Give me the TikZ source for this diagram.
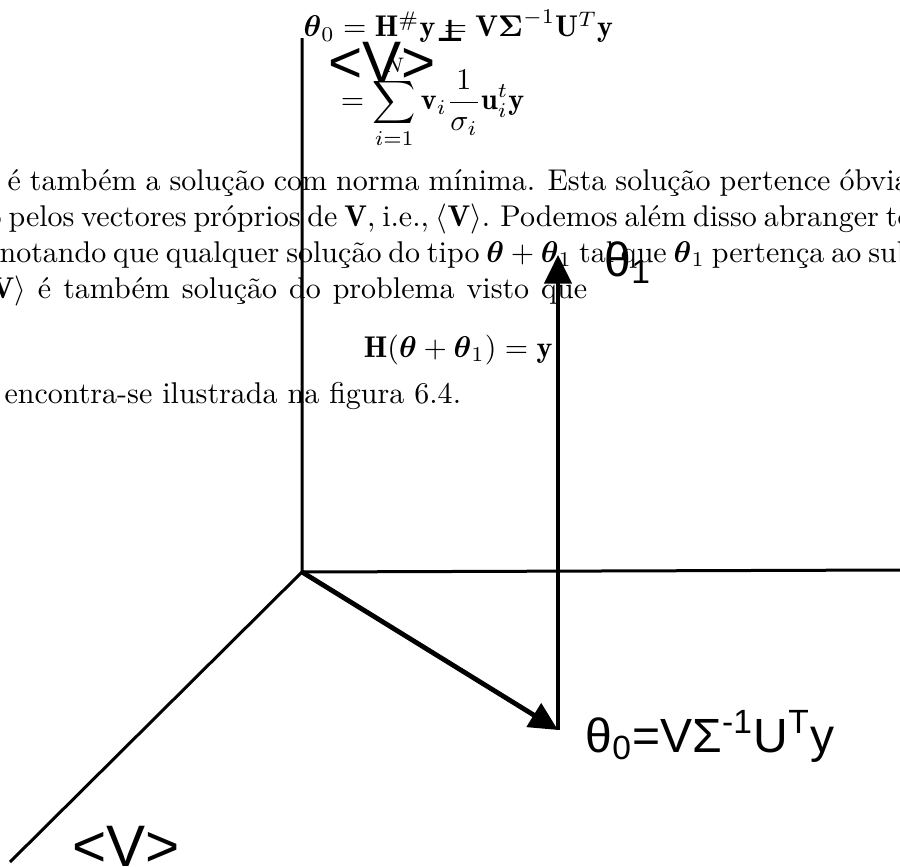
\documentclass[tikz,border=0pt]{standalone}
\usepackage{amsmath}
\usepackage{amssymb}
\usepackage{fontspec}
\newfontfamily\figfont{Liberation Sans}
\newfontfamily\symbfont{DejaVu Sans}
\usetikzlibrary{arrows.meta}

\begin{document}
\begin{tikzpicture}[>={Triangle[length=9.5pt,width=9pt]}, x=0.3333pt, y=-0.3333pt,
    txt/.style={anchor=base west, inner sep=0pt},
    lbl/.style={anchor=base west, inner sep=0pt, font=\figfont\fontsize{19.5}{22}\selectfont},
    axis/.style={line width=1pt},
    vec/.style={->, line width=1.6pt}]
    \useasboundingbox (0,0) rectangle (900,867);
    \clip (0,0) rectangle (900,867);

    % Page text
    \node[txt] (eqa) at (303,37) {$\boldsymbol{\theta}_0 = \mathbf{H}^{\#}\mathbf{y} = \mathbf{V}\boldsymbol{\Sigma}^{-1}\mathbf{U}^T\mathbf{y}$};
    \node[txt] (eqb) at (332,110) {$\displaystyle {}= \sum_{i=1}^{N}\mathbf{v}_i\frac{1}{\sigma_i}\mathbf{u}_i^t\mathbf{y}$};
    \node[txt] (line1) at (7,190) {\spaceskip=3pt\relax é também a solução com norma mínima. Esta solução pertence óbvia};
    \node[txt] (line2) at (-14,226) {\spaceskip=2.3pt\relax o pelos vectores próprios de $\mathbf{V}$, i.e., $\langle\mathbf{V}\rangle$. Podemos além disso abranger to};
    \node[txt] (line3) at (-1,262) {\spaceskip=2.3pt\relax notando que qualquer solução do tipo $\boldsymbol{\theta}+\boldsymbol{\theta}_1$ tal que $\boldsymbol{\theta}_1$ pertença ao sub};
    \node[txt] (line4) at (-9,298) {\spaceskip=4pt\relax $\mathbf{V}\rangle$ é também solução do problema visto que};
    \node[anchor=base east, inner sep=0pt] (eqc) at (553,357) {$\mathbf{H}(\boldsymbol{\theta}+\boldsymbol{\theta}_1) = \mathbf{y}$};
    \node[txt] (line6) at (4,403) {encontra-se ilustrada na figura 6.4.};

    % Axes
    \coordinate (O) at (302,572);
    \coordinate (vtop) at (302,38);
    \coordinate (hend) at (900,570);
    \coordinate (dend) at (10,862);
    \coordinate (t0) at (558,730);
    \coordinate (t1) at (558,255);
    \draw[axis] (vtop) -- (O) -- (hend);
    \draw[axis] (O) -- (dend);

    % Vectors
    \draw[vec] (O) -- (t0);
    \draw[vec, line width=1.3pt] (t0) -- (t1);

    % Labels
    \node[lbl] (vspan) at (328,82) {<V>};
    \node[lbl] (vspan2) at (72,866) {<V>};
    \node[anchor=base, inner sep=0pt, font=\symbfont\bfseries\fontsize{10}{10}\selectfont] (perp) at (450,42) {⊥};
    \node[lbl, font=\figfont\fontsize{16}{19}\selectfont] (th0) at (585,752) {θ\textsubscript{0}=VΣ\textsuperscript{-1}U\textsuperscript{T}y};
    \node[lbl, font=\figfont\fontsize{16}{19}\selectfont] (th1) at (604,276) {θ\textsubscript{1}};
\end{tikzpicture}
\end{document}
